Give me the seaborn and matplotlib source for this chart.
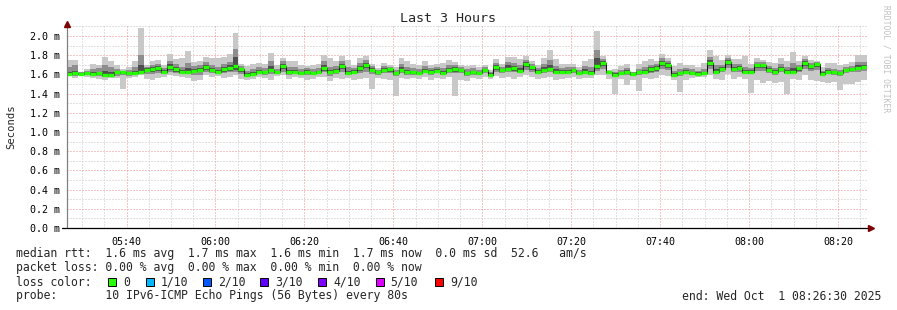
import numpy as np
import pandas as pd
import matplotlib
matplotlib.use("Agg")
import matplotlib.pyplot as plt
import matplotlib.dates as mdates
from matplotlib.ticker import MultipleLocator, FuncFormatter
from matplotlib.patches import Rectangle
import seaborn as sns

# ---------------- data ----------------
start_time = "2025-10-01 05:26:30"
end_time = "2025-10-01 08:26:30"
step_seconds = 80

median_ms = [
    1.60, 1.61, 1.60, 1.61, 1.60, 1.61, 1.59, 1.59, 1.62, 1.62, 1.61, 1.61, 1.62, 1.65, 1.66, 1.67, 1.63, 1.68, 1.66, 1.62, 1.63, 1.64, 1.65,
    1.68, 1.65, 1.63, 1.66, 1.67, 1.69, 1.66, 1.59, 1.60, 1.63, 1.62, 1.65, 1.62, 1.69, 1.62, 1.63, 1.61, 1.63, 1.61, 1.62, 1.67, 1.62, 1.64,
    1.69, 1.61, 1.63, 1.67, 1.70, 1.65, 1.62, 1.65, 1.66, 1.61, 1.65, 1.62, 1.62, 1.61, 1.64, 1.63, 1.64, 1.61, 1.65, 1.66, 1.65, 1.61, 1.62,
    1.61, 1.65, 1.59, 1.68, 1.65, 1.66, 1.67, 1.64, 1.71, 1.68, 1.63, 1.65, 1.66, 1.63, 1.63, 1.63, 1.65, 1.61, 1.63, 1.61, 1.69, 1.72, 1.63,
    1.59, 1.61, 1.63, 1.60, 1.62, 1.63, 1.66, 1.67, 1.72, 1.70, 1.59, 1.61, 1.63, 1.61, 1.60, 1.61, 1.72, 1.63, 1.66, 1.73, 1.66, 1.67, 1.63,
    1.63, 1.70, 1.70, 1.65, 1.63, 1.66, 1.63, 1.63, 1.67, 1.72, 1.69, 1.71, 1.60, 1.63, 1.62, 1.61, 1.65, 1.66, 1.67, 1.68,
]
max_ms = [
    1.75, 1.75, 1.63, 1.66, 1.71, 1.70, 1.78, 1.74, 1.70, 1.66, 1.68, 1.74, 2.08, 1.70, 1.74, 1.75, 1.70, 1.81, 1.76, 1.77, 1.84, 1.73, 1.74,
    1.78, 1.77, 1.77, 1.78, 1.81, 2.03, 1.71, 1.69, 1.71, 1.72, 1.71, 1.82, 1.70, 1.77, 1.74, 1.74, 1.70, 1.69, 1.70, 1.71, 1.80, 1.77, 1.74,
    1.79, 1.75, 1.70, 1.77, 1.79, 1.71, 1.67, 1.72, 1.70, 1.68, 1.77, 1.74, 1.71, 1.70, 1.74, 1.70, 1.71, 1.72, 1.75, 1.73, 1.70, 1.69, 1.70,
    1.68, 1.70, 1.65, 1.76, 1.71, 1.78, 1.78, 1.76, 1.79, 1.74, 1.70, 1.77, 1.85, 1.76, 1.71, 1.71, 1.71, 1.68, 1.74, 1.76, 2.05, 1.79, 1.65,
    1.66, 1.69, 1.71, 1.63, 1.71, 1.74, 1.76, 1.74, 1.81, 1.77, 1.69, 1.72, 1.70, 1.70, 1.68, 1.72, 1.85, 1.79, 1.75, 1.80, 1.76, 1.76, 1.79,
    1.71, 1.77, 1.75, 1.73, 1.72, 1.77, 1.74, 1.83, 1.74, 1.79, 1.75, 1.74, 1.68, 1.72, 1.72, 1.70, 1.71, 1.73, 1.80, 1.80,
]
min_ms = [
    1.58, 1.56, 1.59, 1.57, 1.56, 1.55, 1.54, 1.56, 1.56, 1.45, 1.56, 1.57, 1.59, 1.55, 1.54, 1.56, 1.57, 1.59, 1.58, 1.57, 1.56, 1.53, 1.54,
    1.59, 1.57, 1.58, 1.56, 1.57, 1.59, 1.55, 1.54, 1.55, 1.57, 1.56, 1.54, 1.58, 1.59, 1.55, 1.57, 1.56, 1.54, 1.55, 1.57, 1.57, 1.53, 1.56,
    1.55, 1.56, 1.54, 1.55, 1.56, 1.45, 1.56, 1.55, 1.54, 1.38, 1.56, 1.55, 1.56, 1.55, 1.57, 1.54, 1.56, 1.55, 1.57, 1.37, 1.54, 1.53, 1.56,
    1.55, 1.57, 1.55, 1.58, 1.56, 1.57, 1.55, 1.57, 1.59, 1.57, 1.55, 1.56, 1.57, 1.54, 1.55, 1.56, 1.57, 1.55, 1.56, 1.56, 1.59, 1.59, 1.55,
    1.40, 1.55, 1.49, 1.54, 1.43, 1.56, 1.55, 1.56, 1.59, 1.58, 1.54, 1.42, 1.54, 1.56, 1.57, 1.57, 1.59, 1.55, 1.54, 1.60, 1.55, 1.57, 1.55,
    1.41, 1.54, 1.51, 1.53, 1.51, 1.52, 1.40, 1.55, 1.54, 1.59, 1.54, 1.53, 1.52, 1.51, 1.52, 1.44, 1.50, 1.50, 1.52, 1.54,
]
hi2_ms = [
    1.68, 1.70, 1.62, 1.64, 1.66, 1.67, 1.70, 1.68, 1.66, 1.64, 1.65, 1.68, 1.80, 1.68, 1.70, 1.71, 1.67, 1.74, 1.71, 1.68, 1.72, 1.69, 1.70,
    1.73, 1.70, 1.68, 1.71, 1.73, 1.86, 1.69, 1.64, 1.66, 1.68, 1.67, 1.74, 1.66, 1.74, 1.68, 1.68, 1.66, 1.67, 1.66, 1.67, 1.74, 1.68, 1.69,
    1.74, 1.68, 1.67, 1.72, 1.75, 1.69, 1.65, 1.69, 1.68, 1.65, 1.71, 1.68, 1.67, 1.66, 1.69, 1.67, 1.68, 1.67, 1.70, 1.70, 1.68, 1.66, 1.67,
    1.65, 1.68, 1.63, 1.72, 1.68, 1.73, 1.72, 1.70, 1.75, 1.71, 1.67, 1.71, 1.75, 1.69, 1.67, 1.68, 1.68, 1.65, 1.69, 1.68, 1.85, 1.76, 1.64,
    1.63, 1.65, 1.67, 1.62, 1.66, 1.68, 1.70, 1.71, 1.77, 1.74, 1.64, 1.66, 1.67, 1.66, 1.64, 1.66, 1.78, 1.70, 1.70, 1.77, 1.71, 1.71, 1.68,
    1.67, 1.73, 1.73, 1.69, 1.67, 1.71, 1.68, 1.72, 1.70, 1.76, 1.72, 1.73, 1.64, 1.67, 1.66, 1.65, 1.68, 1.69, 1.73, 1.73,
]
lo2_ms = [
    1.59, 1.58, 1.59, 1.59, 1.58, 1.58, 1.57, 1.57, 1.58, 1.59, 1.58, 1.59, 1.60, 1.60, 1.60, 1.61, 1.60, 1.62, 1.61, 1.60, 1.60, 1.59, 1.59,
    1.63, 1.61, 1.60, 1.61, 1.62, 1.62, 1.60, 1.57, 1.58, 1.60, 1.59, 1.60, 1.60, 1.63, 1.59, 1.60, 1.59, 1.59, 1.59, 1.60, 1.62, 1.58, 1.60,
    1.62, 1.59, 1.60, 1.61, 1.63, 1.60, 1.59, 1.61, 1.61, 1.58, 1.61, 1.59, 1.59, 1.59, 1.61, 1.59, 1.61, 1.59, 1.61, 1.61, 1.61, 1.58, 1.59,
    1.59, 1.61, 1.58, 1.63, 1.61, 1.62, 1.62, 1.61, 1.65, 1.63, 1.60, 1.61, 1.62, 1.60, 1.60, 1.60, 1.61, 1.59, 1.60, 1.59, 1.64, 1.66, 1.60,
    1.57, 1.59, 1.59, 1.58, 1.59, 1.60, 1.61, 1.62, 1.66, 1.65, 1.57, 1.58, 1.60, 1.59, 1.59, 1.59, 1.66, 1.60, 1.62, 1.67, 1.62, 1.63, 1.60,
    1.60, 1.64, 1.64, 1.61, 1.59, 1.62, 1.60, 1.60, 1.62, 1.66, 1.64, 1.65, 1.58, 1.60, 1.59, 1.58, 1.61, 1.62, 1.63, 1.64,
]
hi3_ms = [
    1.63, 1.64, 1.61, 1.62, 1.62, 1.63, 1.64, 1.63, 1.63, 1.63, 1.63, 1.64, 1.70, 1.67, 1.68, 1.69, 1.65, 1.71, 1.68, 1.65, 1.67, 1.66, 1.67,
    1.70, 1.67, 1.65, 1.68, 1.70, 1.78, 1.67, 1.61, 1.62, 1.65, 1.64, 1.69, 1.64, 1.71, 1.65, 1.65, 1.63, 1.65, 1.63, 1.64, 1.70, 1.65, 1.66,
    1.71, 1.64, 1.65, 1.69, 1.72, 1.67, 1.63, 1.67, 1.67, 1.63, 1.68, 1.65, 1.64, 1.63, 1.66, 1.65, 1.66, 1.64, 1.67, 1.68, 1.66, 1.63, 1.64,
    1.63, 1.66, 1.61, 1.70, 1.66, 1.70, 1.69, 1.67, 1.73, 1.69, 1.65, 1.68, 1.70, 1.66, 1.65, 1.65, 1.66, 1.63, 1.66, 1.64, 1.77, 1.74, 1.63,
    1.61, 1.63, 1.65, 1.61, 1.64, 1.65, 1.68, 1.69, 1.74, 1.72, 1.61, 1.63, 1.65, 1.63, 1.62, 1.63, 1.75, 1.66, 1.68, 1.75, 1.68, 1.69, 1.65,
    1.65, 1.71, 1.71, 1.67, 1.65, 1.68, 1.65, 1.67, 1.68, 1.74, 1.70, 1.72, 1.62, 1.65, 1.64, 1.63, 1.66, 1.67, 1.70, 1.70,
]
lo3_ms = [
    1.59, 1.60, 1.59, 1.60, 1.59, 1.59, 1.58, 1.58, 1.60, 1.60, 1.60, 1.60, 1.61, 1.62, 1.63, 1.64, 1.61, 1.65, 1.63, 1.61, 1.61, 1.62, 1.62,
    1.65, 1.63, 1.61, 1.63, 1.64, 1.65, 1.62, 1.58, 1.59, 1.61, 1.60, 1.62, 1.61, 1.66, 1.60, 1.61, 1.60, 1.61, 1.60, 1.61, 1.64, 1.60, 1.62,
    1.66, 1.60, 1.61, 1.64, 1.67, 1.62, 1.60, 1.63, 1.63, 1.59, 1.63, 1.60, 1.60, 1.60, 1.62, 1.61, 1.62, 1.60, 1.63, 1.63, 1.63, 1.59, 1.60,
    1.60, 1.63, 1.58, 1.65, 1.63, 1.64, 1.64, 1.62, 1.68, 1.65, 1.61, 1.63, 1.64, 1.61, 1.61, 1.61, 1.63, 1.60, 1.61, 1.60, 1.66, 1.69, 1.61,
    1.58, 1.60, 1.61, 1.59, 1.60, 1.61, 1.63, 1.64, 1.69, 1.67, 1.58, 1.59, 1.61, 1.60, 1.59, 1.60, 1.69, 1.61, 1.64, 1.70, 1.64, 1.65, 1.61,
    1.61, 1.67, 1.67, 1.63, 1.61, 1.64, 1.61, 1.61, 1.64, 1.69, 1.66, 1.68, 1.59, 1.61, 1.60, 1.59, 1.63, 1.64, 1.65, 1.66,
]

loss_labels = ["0", "1/10", "2/10", "3/10", "4/10", "5/10", "9/10"]
loss_colors = ["#26ff00", "#00b8ff", "#0059ff", "#5e00ff", "#7e00ff", "#dd00ff", "#ff0000"]

title_text = "Last 3 Hours"
ylabel_text = "Seconds"
legend_rows = [
    "median rtt:  1.6 ms avg  1.7 ms max  1.6 ms min  1.7 ms now  0.0 ms sd  52.6   am/s",
    "packet loss: 0.00 % avg  0.00 % max  0.00 % min  0.00 % now",
    "loss color:",
    "probe:       10 IPv6-ICMP Echo Pings (56 Bytes) every 80s",
]
end_text = "end: Wed Oct  1 08:26:30 2025"
watermark = "RRDTOOL / TOBI OETIKER"

# ---------------- style ----------------
sns.set_theme(style="white")
MONO = ["DejaVu Sans Mono", "DejaVu Sans"]
plt.rcParams["font.family"] = MONO

W, H = 897, 310
fig = plt.figure(figsize=(W / 100, H / 100), dpi=100, facecolor="white")

def fx(px):
    return px / W

def fy(py):
    return 1 - py / H

ax_left, ax_right, ax_top, ax_bottom = 66.5, 867.0, 26.4, 228.0
ax = fig.add_axes([fx(ax_left), fy(ax_bottom), fx(ax_right - ax_left), (ax_bottom - ax_top) / H])
ax.set_facecolor("white")

n = len(median_ms)
edges = pd.date_range(start_time, periods=n + 1, freq=f"{step_seconds}s")
xe = mdates.date2num(edges.to_pydatetime())

def ext(v):
    v = np.asarray(v, dtype=float)
    return np.append(v, v[-1])

# smoke layers
ax.fill_between(xe, ext(min_ms), ext(max_ms), step="post", color="#c8c8c8", lw=0, zorder=2)
ax.fill_between(xe, ext(lo2_ms), ext(hi2_ms), step="post", color="#8e8e8e", lw=0, zorder=3)
ax.fill_between(xe, ext(lo3_ms), ext(hi3_ms), step="post", color="#4e4e4e", lw=0, zorder=4)

# median: dark step line + green level segments
df = pd.DataFrame({"time": xe, "rtt": ext(median_ms)})
sns.lineplot(data=df, x="time", y="rtt", drawstyle="steps-post", color="#111111",
             lw=0.75, errorbar=None, ax=ax, zorder=5)
ax.hlines(median_ms, xe[:-1], xe[1:], color=loss_colors[0], lw=2.4, zorder=6)

# axes scales
ax.set_xlim(mdates.date2num(pd.Timestamp(start_time)), mdates.date2num(pd.Timestamp(end_time)))
ax.set_ylim(0, 2.1)
ax.set_xlabel("")
ax.set_ylabel("")

ax.yaxis.set_major_locator(MultipleLocator(0.2))
ax.yaxis.set_minor_locator(MultipleLocator(0.1))
ax.yaxis.set_major_formatter(FuncFormatter(lambda v, p: f"{v:.1f} m"))
ax.xaxis.set_major_locator(mdates.MinuteLocator(byminute=[0, 20, 40]))
ax.xaxis.set_minor_locator(mdates.MinuteLocator(byminute=range(0, 60, 5)))
ax.xaxis.set_major_formatter(mdates.DateFormatter("%H:%M"))

dash = (0, (1, 2))
ax.grid(True, which="minor", color="#c4c4c4", linestyle=dash, lw=0.72, zorder=0)
ax.grid(True, which="major", color="#f08c8c", linestyle=dash, lw=0.72, zorder=1)
ax.set_axisbelow(True)

ax.tick_params(axis="y", which="both", length=0, pad=4.5, labelsize=7.2, labelcolor="black")
ax.tick_params(axis="x", which="major", length=2.5, width=0.7, color="#f08c8c", pad=4,
               labelsize=7.2, labelcolor="black")
ax.tick_params(axis="x", which="minor", length=2, width=0.7, color="#c4c4c4")
for lbl in ax.get_xticklabels() + ax.get_yticklabels():
    lbl.set_family(MONO)

for s in ax.spines.values():
    s.set_visible(False)

# axis lines with arrows
ax.plot([0, 0], [0, 1.0], transform=ax.transAxes, color="#808080", lw=0.9, clip_on=False, zorder=7)
ax.plot(0, 1.012, marker="^", ms=4.2, color="#7f0000", transform=ax.transAxes, clip_on=False, zorder=8)
ax.plot([-0.0056, 1.003], [0, 0], transform=ax.transAxes, color="black", lw=0.9, clip_on=False, zorder=7)
ax.plot(1.005, 0, marker=">", ms=4.2, color="#7f0000", transform=ax.transAxes, clip_on=False, zorder=8)

# titles and labels
fig.text(fx(448), fy(19), title_text, ha="center", va="center", fontsize=9.6, family=MONO)
fig.text(fx(11), fy(127), ylabel_text, ha="center", va="center", rotation=90, fontsize=7.6, family=MONO)
fig.text(fx(886), fy(5), watermark, ha="center", va="top", rotation=270, fontsize=5.8,
         color="#c0c0c0", family=MONO)

# legend block
row_y = [254, 268, 282, 296]
for txt, y in zip(legend_rows, row_y):
    fig.text(fx(16), fy(y), txt, ha="left", va="center", fontsize=8.3, family=MONO)
fig.text(fx(881), fy(296), end_text, ha="right", va="center", fontsize=8.3, family=MONO)

square_x = [108, 146, 203, 260, 318, 376, 435]
label_x = [123.5, 160.5, 218, 275.5, 333, 390.5, 450]
for sx, lx, lab, col in zip(square_x, label_x, loss_labels, loss_colors):
    fig.add_artist(Rectangle((fx(sx), fy(286)), fx(8), 8 / H, transform=fig.transFigure,
                             facecolor=col, edgecolor="black", lw=0.7))
    fig.text(fx(lx), fy(282), lab, ha="left", va="center", fontsize=8.3, family=MONO)

fig.savefig("out.png", dpi=100, facecolor="white")
